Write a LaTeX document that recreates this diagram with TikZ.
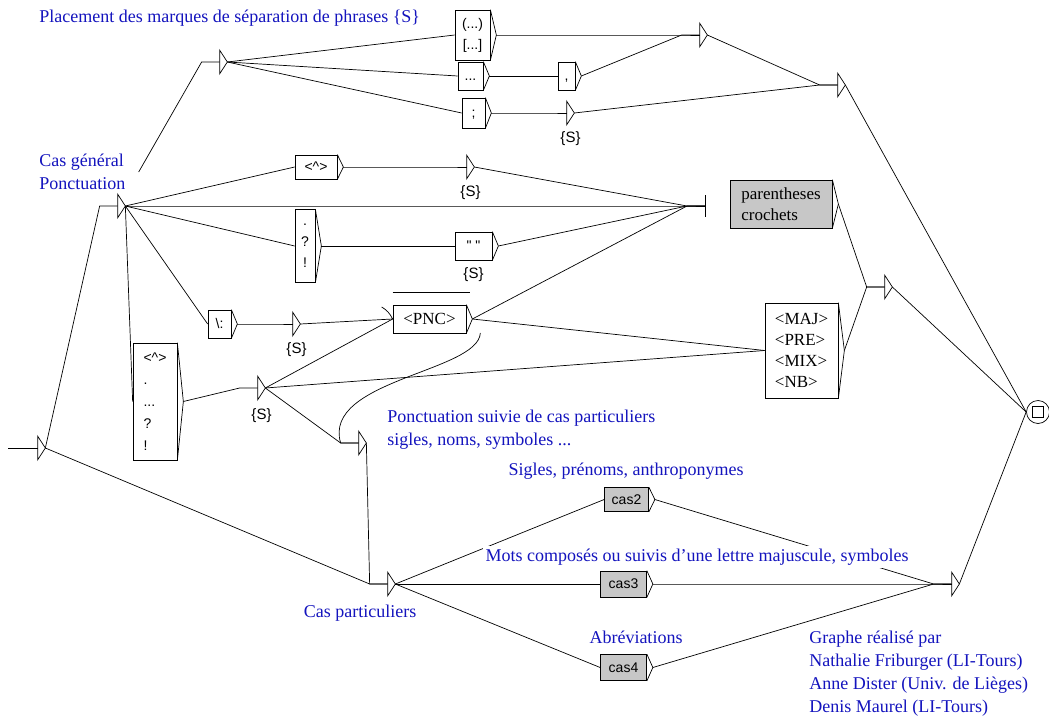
\documentclass[tikz,border=0pt]{standalone}
\usepackage{fontspec}
\setmainfont{Liberation Serif}
\setsansfont{Liberation Sans}
\usetikzlibrary{positioning}
\definecolor{cmtblue}{RGB}{20,20,190}

\begin{document}
\begin{tikzpicture}[x=1pt,y=-1pt,line width=0.7pt,
		eps/.style={rectangle,inner sep=0pt,minimum width=7pt,minimum height=23pt},
		ubox/.style={draw,fill=white,inner sep=2pt,font=\sffamily\fontsize{14}{21}\selectfont,align=center},
		sbox/.style={ubox,font=\fontsize{17}{21}\selectfont,align=left},
		gbox/.style={ubox,fill=black!22},
		cmt/.style={text=cmtblue,font=\fontsize{18}{23}\selectfont,align=left,inner sep=1pt},
		slab/.style={font=\sffamily\fontsize{15}{18}\selectfont,inner sep=0pt},
		stub/.style={to path={-- ([xshift=-18pt]\tikztotarget) -- (\tikztotarget)}}]
	\path[use as bounding box,fill=white] (0,0) rectangle (1049,717);

	\coordinate (entry) at (8,448);
	\node	[eps]	(init)		at (41.5,448)	{};
	\node	[eps]	(pcg)		at (121.5,206)	{};
	\node	[eps]	(sent)		at (223.5,62)	{};
	\node	[eps]	(topj)		at (703.5,35)	{};
	\node	[eps]	(semiS)		at (570.5,113)	{};
	\node	[eps]	(rightj)	at (841.5,85)	{};
	\node	[eps]	(aS)		at (470.5,167)	{};
	\node	[eps]	(colS)		at (296.5,324)	{};
	\node	[eps]	(listS)		at (261.5,388)	{};
	\node	[eps]	(ponct)		at (362.5,443)	{};
	\node	[eps]	(caspart)	at (391.5,584)	{};
	\node	[eps]	(bigj)		at (888.5,287)	{};
	\node	[eps]	(botj)		at (955.5,584)	{};
	\coordinate (bar) at (705,206);
	\node	[circle,draw,minimum size=23pt,inner sep=0pt]	(final)		at (1038,412)	{};
	\node	[draw,minimum size=11pt,inner sep=0pt]			(finalsq)	at (final)		{};

	\node	[ubox,minimum width=35pt,minimum height=50pt]	(paren)	at (472.5,35)	{(...)\\{[...]}};
	\node	[ubox,minimum width=25pt,minimum height=28pt]	(dots)	at (470.5,76)	{\strut...};
	\node	[ubox,minimum width=23pt,minimum height=30pt]	(semi)	at (473.5,113)	{\strut;};
	\node	[ubox,minimum width=17pt,minimum height=28pt]	(comma)	at (566.5,76)	{\strut,};
	\node	[ubox,minimum width=42pt,minimum height=24pt]	(abox)	at (316,167)	{<\textasciicircum>};
	\node	[ubox,minimum width=20pt,minimum height=73pt]	(excl)	at (305,246)	{.\\?\\!};
	\node	[ubox,minimum width=37pt,minimum height=28pt]	(quote)	at (473.5,246)	{\textquotedbl\ \textquotedbl};
	\node	[ubox,minimum width=23pt,minimum height=28pt]	(colon)	at (219.5,324)	{\strut\textbackslash:};
	\node	[sbox,align=center,minimum width=73pt,minimum height=28pt]	(pnc)	at (429.5,319)	{<PNC>};
	\node	[ubox,align=left,font=\sffamily\fontsize{14}{22}\selectfont,minimum width=44pt,minimum height=117pt]	(list)	at (155,401.5)	{<\textasciicircum>\\.\\...\\?\\!};
	\node	[gbox,font=\fontsize{17}{21}\selectfont,align=left,minimum width=102pt,minimum height=48pt]	(parbox)	at (781,204)	{parentheses\\crochets};
	\node	[sbox,minimum width=73pt,minimum height=95pt]	(maj)	at (801.5,350.5)	{<MAJ>\\<PRE>\\<MIX>\\<NB>};
	\node	[gbox,minimum width=44pt,minimum height=24pt]	(cas2)	at (626.5,499.5)	{cas2};
	\node	[gbox,minimum width=46pt,minimum height=26pt]	(cas3)	at (623.5,584)	{cas3};
	\node	[gbox,minimum width=46pt,minimum height=26pt]	(cas4)	at (623.5,667.5)	{cas4};

	\foreach \t in {init,pcg,sent,topj,semiS,rightj,aS,colS,listS,ponct,caspart,bigj,botj}
		\draw (\t.north west) -- (\t.east) -- (\t.south west) -- cycle;
	\foreach \b in {paren,dots,semi,comma,abox,excl,quote,colon,pnc,list,parbox,maj,cas2,cas3,cas4}
		\draw (\b.north east) -- ([xshift=6pt]\b.east) coordinate (\b-out) -- (\b.south east);
	\draw ([yshift=11pt]bar) -- ([yshift=-11pt]bar);

	\node	[slab,below=6pt of semiS]	(lsemiS)	{\{S\}};
	\node	[slab,below=6pt of aS]		(laS)		{\{S\}};
	\node	[slab,below=7pt of quote]	(lquote)	{\{S\}};
	\node	[slab,below=6pt of colS]	(lcolS)		{\{S\}};
	\node	[slab,below=8pt of listS]	(llistS)	{\{S\}};

	\node	[cmt,anchor=west]	(cmtsent)	at (38,18)	{Placement des marques de séparation de phrases \{S\}};
	\node	[cmt,anchor=west]	(cmtgen)	at (38,172)	{Cas général\\Ponctuation};
	\node	[cmt,anchor=west]	(cmtponct)	at (386,430)	{Ponctuation suivie de cas particuliers\\sigles, noms, symboles ...};
	\node	[cmt]				(cmtsig)	at (626,471)	{Sigles, prénoms, anthroponymes};
	\node	[cmt]				(cmtabr)	at (636,637)	{Abréviations};
	\node	[cmt]				(cmtpart)	at (360,613)	{Cas particuliers};
	\node	[cmt,anchor=north west]	(cmtcred)	at (808,630)	{Graphe réalisé par\\Nathalie Friburger (LI-Tours)\\Anne Dister (Univ. de Lièges)\\Denis Maurel (LI-Tours)};

	\path
		(entry)			edge			(init.west)
		(init.east)		edge[stub]		(pcg.west)
		(init.east)		edge[stub]		(caspart.west)
		([xshift=12pt]cmtgen.east)	edge[stub]	(sent.west)
		(sent.east)		edge			(paren.west)
		(sent.east)		edge			(dots.west)
		(sent.east)		edge			(semi.west)
		(paren-out)		edge[stub]		(topj.west)
		(dots-out)		edge			(comma.west)
		(comma-out)		edge[stub]		(topj.west)
		(semi-out)		edge[stub]		(semiS.west)
		(topj.east)		edge[stub]		(rightj.west)
		(semiS.east)	edge[stub]		(rightj.west)
		(rightj.east)	edge			(final.west)
		(pcg.east)		edge			(abox.west)
		(abox-out)		edge[stub]		(aS.west)
		(aS.east)		edge[stub]		(bar)
		(pcg.east)		edge[stub]		(bar)
		(pcg.east)		edge			(excl.west)
		(excl-out)		edge			(quote.west)
		(quote-out)		edge[stub]		(bar)
		(pcg.east)		edge			(colon.west)
		(colon-out)		edge[stub]		(colS.west)
		(colS.east)		edge			(pnc.west)
		(pcg.east)		edge			(list.west)
		(list-out)		edge[stub]		(listS.west)
		(listS.east)	edge			(pnc.west)
		(listS.east)	edge			(maj.west)
		(listS.east)	edge[stub]		(ponct.west)
		(pnc-out)		edge[stub]		(bar)
		(pnc-out)		edge			(maj.west)
		(parbox-out)	edge[stub]		(bigj.west)
		(maj-out)		edge[stub]		(bigj.west)
		(bigj.east)		edge			(final.west)
		(ponct.east)	edge[stub]		(caspart.west)
		(caspart.east)	edge			(cas2.west)
		(caspart.east)	edge			(cas3.west)
		(caspart.east)	edge			(cas4.west)
		(cas2-out)		edge[stub]		(botj.west)
		(cas3-out)		edge[stub]		(botj.west)
		(cas4-out)		edge[stub]		(botj.west)
		(botj.east)		edge			(final.west)
	;
	\draw ([xshift=8pt,yshift=-14pt]pnc-out) .. controls (478,372) and (322,380) .. ([xshift=-18pt]ponct.west) -- (ponct.west);
	\draw ([xshift=-11pt,yshift=12pt]pnc.west) .. controls +(5,3) and +(-3,-6) .. (pnc.west);
	\draw ([yshift=12pt]pnc.north west) -- ([xshift=4pt,yshift=12pt]pnc.north east);

	\node	[cmt,fill=white,inner sep=3pt]	(cmtmots)	at (697,557)	{Mots composés ou suivis d'une lettre majuscule, symboles};
\end{tikzpicture}
\end{document}
